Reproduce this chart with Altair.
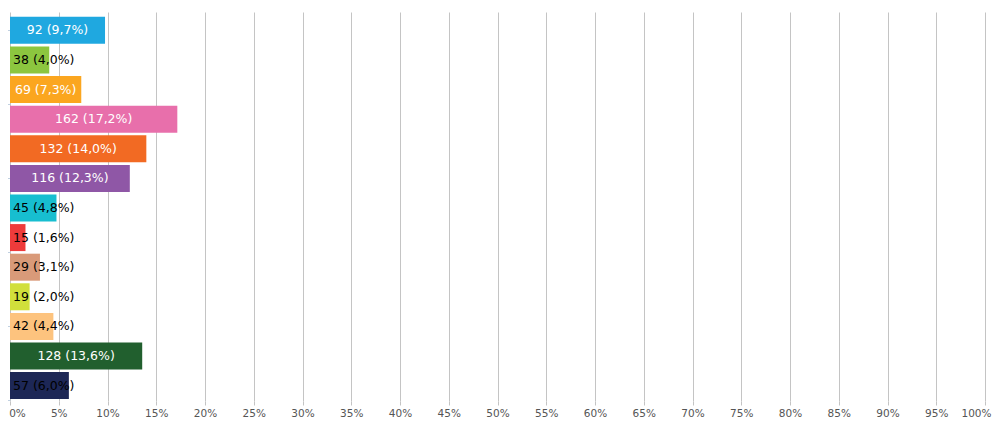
import altair as alt
import pandas as pd

categories = ["A", "B", "C", "D", "E", "F", "G", "H", "I", "J", "K", "L", "M"]
counts = [92, 38, 69, 162, 132, 116, 45, 15, 29, 19, 42, 128, 57]
colors = ["#1fa8e0", "#8cc63f", "#fba61f", "#e86fab", "#f26a23", "#8f57a6",
          "#17bed0", "#ee3b3b", "#d99a79", "#d1df3b", "#fdc37e", "#215f2e", "#1d2756"]
x_ticks = list(range(0, 101, 5))
y_ticks = [0.5, 3, 5.5, 8, 10.5, 13]

total = sum(counts)
rows = []
for i, (c, v, col) in enumerate(zip(categories, counts, colors)):
    pct = v / total * 100
    label = f"{v} ({pct:.1f}%)".replace(".", ",")
    rows.append({
        "cat": c, "count": v, "pct": pct, "half": pct / 2,
        "y0": i + 0.044, "y1": i + 0.956, "ym": i + 0.5,
        "color": col, "label": label, "inside": pct >= 7,
        "zero": 0,
    })
df = pd.DataFrame(rows)

FONT = "DejaVu Sans"

yscale = alt.Scale(domain=[-0.12, 13.02], reverse=True, nice=False, zero=False)
xscale = alt.Scale(domain=[0, 100], nice=False)

base = alt.Chart(df)

label_offset = {
    "condition": [
        {"test": "datum.value == 0", "value": 7},
        {"test": "datum.value == 100", "value": -9},
    ],
    "value": 0,
}

bars = base.mark_bar(cornerRadius=0).encode(
    x=alt.X("zero:Q", scale=xscale, axis=alt.Axis(
        values=x_ticks, labelExpr="datum.value + '%'", title=None,
        grid=True, gridColor="#c4c4c4", domain=False, tickColor="#c4c4c4",
        tickSize=4, labelPadding=3, labelFont=FONT, labelFontSize=10.5,
        labelColor="#555555", labelOverlap=False, labelFlush=False,
        labelOffset=label_offset)),
    x2="pct:Q",
    y=alt.Y("y0:Q", scale=yscale, axis=alt.Axis(
        values=y_ticks, labels=False, domain=False, grid=False, title=None,
        tickColor="#c0d0e0", tickSize=5)),
    y2="y1:Q",
    color=alt.Color("color:N", scale=None),
)

inside = base.transform_filter("datum.inside").mark_text(
    align="center", baseline="middle", color="white", font=FONT, fontSize=12.5
).encode(
    x=alt.X("half:Q", scale=xscale),
    y=alt.Y("ym:Q", scale=yscale),
    text="label:N",
)

outside = base.transform_filter("!datum.inside").mark_text(
    align="left", baseline="middle", color="black", font=FONT, fontSize=12.5, dx=3
).encode(
    x=alt.X("zero:Q", scale=xscale),
    y=alt.Y("ym:Q", scale=yscale),
    text="label:N",
)

chart = alt.layer(bars, inside, outside).properties(
    width=975, height=389,
    autosize=alt.AutoSizeParams(type="none"),
    padding={"left": 2, "top": 4, "right": 7, "bottom": 20},
).configure_view(stroke=None)

chart.save("out.html", embed_options={"renderer": "svg", "actions": False})
